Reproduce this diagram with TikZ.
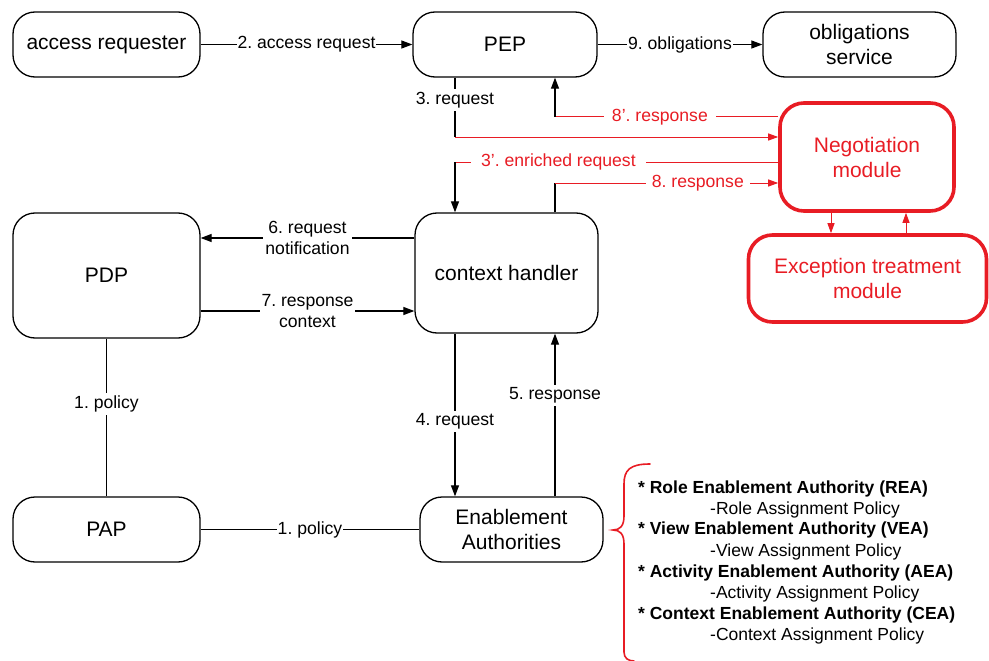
\documentclass[tikz,border=0pt]{standalone}
\usepackage{fontspec}
\setmainfont{Liberation Sans}
\usetikzlibrary{arrows.meta}
\definecolor{nred}{RGB}{232,28,36}
\frenchspacing
\begin{document}
\begin{tikzpicture}[x=1pt,y=-1pt,
  box/.style={draw=black, line width=1.3pt, rounded corners=22pt, align=center,
    font=\fontsize{21}{24.5}\selectfont, inner sep=0pt},
  rbox/.style={draw=nred, line width=3.6pt, rounded corners=24pt, align=center,
    text=nred, font=\fontsize{21}{25}\selectfont, inner sep=0pt},
  lbl/.style={fill=white, inner xsep=2pt, inner ysep=3pt, align=center,
    font=\fontsize{17.6}{21.5}\selectfont},
  rlbl/.style={lbl, text=nred},
  conn/.style={line width=1.2pt},
  arr/.style={conn, -{Triangle[length=11pt,width=8pt]}},
  rconn/.style={draw=nred, line width=1pt},
  rarr/.style={rconn, -{Triangle[length=10pt,width=7pt]}},
  lhead/.style={anchor=west, inner sep=0pt, font=\fontsize{17.5}{20}\selectfont\bfseries},
  lsub/.style={anchor=west, inner sep=0pt, font=\fontsize{17.5}{20}\selectfont},
]
\useasboundingbox (0,0) rectangle (989,661);

% nodes
\node[box, minimum width=187pt, minimum height=65pt] (ar) at (106.5,44.5) {access requester};
\node[box, minimum width=184pt, minimum height=65pt] (pep) at (505,44.5) {PEP};
\node[box, minimum width=193pt, minimum height=65pt] (obl) at (859.5,44.5) {obligations\\service};
\node[rbox, minimum width=174pt, minimum height=108pt] (neg) at (867,157) {Negotiation\\module};
\node[rbox, minimum width=238pt, minimum height=87pt] (exc) at (867.5,278.5) {Exception treatment\\module};
\node[box, minimum width=187pt, minimum height=125pt] (pdp) at (106.5,275.5) {PDP};
\node[box, minimum width=183pt, minimum height=120pt] (ch) at (506.5,273) {context handler};
\node[box, minimum width=187pt, minimum height=65pt] (pap) at (106.5,529.5) {PAP};
\node[box, minimum width=183pt, minimum height=65pt] (ea) at (511.5,529.5) {Enablement\\Authorities};

% helper coordinates
\coordinate (c3) at (455,137);
\coordinate (c8p) at (555,117);
\coordinate (c3p) at (455,162);
\coordinate (c8) at (555,183);
\coordinate (c6) at (307,238);
\coordinate (c7) at (307,311);

% top row
\draw[arr] (ar.east) -- node[lbl, inner ysep=1pt, inner xsep=1pt]{2. access request} (pep.west);
\draw[arr] (pep.east) -- node[lbl, inner ysep=1pt, inner xsep=1pt]{9. obligations} (obl.west);

% 3. request
\draw[conn] (pep.south -| c3) -- node[lbl, pos=0.38]{3. request} (c3);
\draw[rarr] (c3) -- (c3 -| neg.west);

% 8'. response
\draw[rconn] (neg.west |- c8p) -- node[rlbl, pos=0.53, inner xsep=8pt]{8’. response} (c8p);
\draw[arr] (c8p) -- (pep.south -| c8p);

% 3'. enriched request
\draw[rconn] (neg.west |- c3p) -- node[rlbl, pos=0.68, inner xsep=10pt]{3’. enriched request} (c3p);
\draw[arr] (c3p) -- (ch.north -| c3p);

% 8. response
\draw[conn] (ch.north -| c8) -- (c8);
\draw[rarr] (c8) -- node[rlbl, pos=0.64, inner xsep=6pt]{8. response} (c8 -| neg.west);

% negotiation <-> exception
\draw[rarr] ([xshift=-36pt]neg.south) -- ([xshift=-36pt]neg.south |- exc.north);
\draw[rarr] ([xshift=39pt]neg.south |- exc.north) -- ([xshift=39pt]neg.south);

% PDP <-> context handler
\draw[arr] (ch.west |- c6) -- node[lbl, inner ysep=0pt]{6. request\\notification} (pdp.east |- c6);
\draw[arr] (pdp.east |- c7) -- node[lbl, inner ysep=0pt]{7. response\\context} (ch.west |- c7);

% policy links
\draw[conn] (pdp.south) -- node[lbl, pos=0.415]{1. policy} (pap.north);
\draw[conn] (pap.east) -- node[lbl, inner ysep=1pt, inner xsep=1pt]{1. policy} (ea.west);

% context handler <-> enablement authorities
\draw[arr] (ch.south -| c3) -- node[lbl, pos=0.54]{4. request} (ea.north -| c3);
\draw[arr] (ea.north -| c8) -- node[lbl, pos=0.62]{5. response} (ch.south -| c8);

% brace
\draw[nred, line width=1.6pt, line cap=round]
  (650,464) .. controls (630,464) and (624,470) .. (624,484)
  -- (624,516) .. controls (624,526) and (620,530) .. (613,530)
  .. controls (620,530) and (624,534) .. (624,544)
  -- (624,652) .. controls (624,658) and (628,661) .. (634,661);

% list
\node[lhead] (l1) at (638,489) {* Role Enablement Authority (REA)};
\node[lsub]  (l2) at (710,510) {-Role Assignment Policy};
\node[lhead] (l3) at (638,530) {* View Enablement Authority (VEA)};
\node[lsub]  (l4) at (710,552) {-View Assignment Policy};
\node[lhead] (l5) at (638,573) {* Activity Enablement Authority (AEA)};
\node[lsub]  (l6) at (710,594) {-Activity Assignment Policy};
\node[lhead] (l7) at (638,615) {* Context Enablement Authority (CEA)};
\node[lsub]  (l8) at (710,636) {-Context Assignment Policy};
\end{tikzpicture}
\end{document}
